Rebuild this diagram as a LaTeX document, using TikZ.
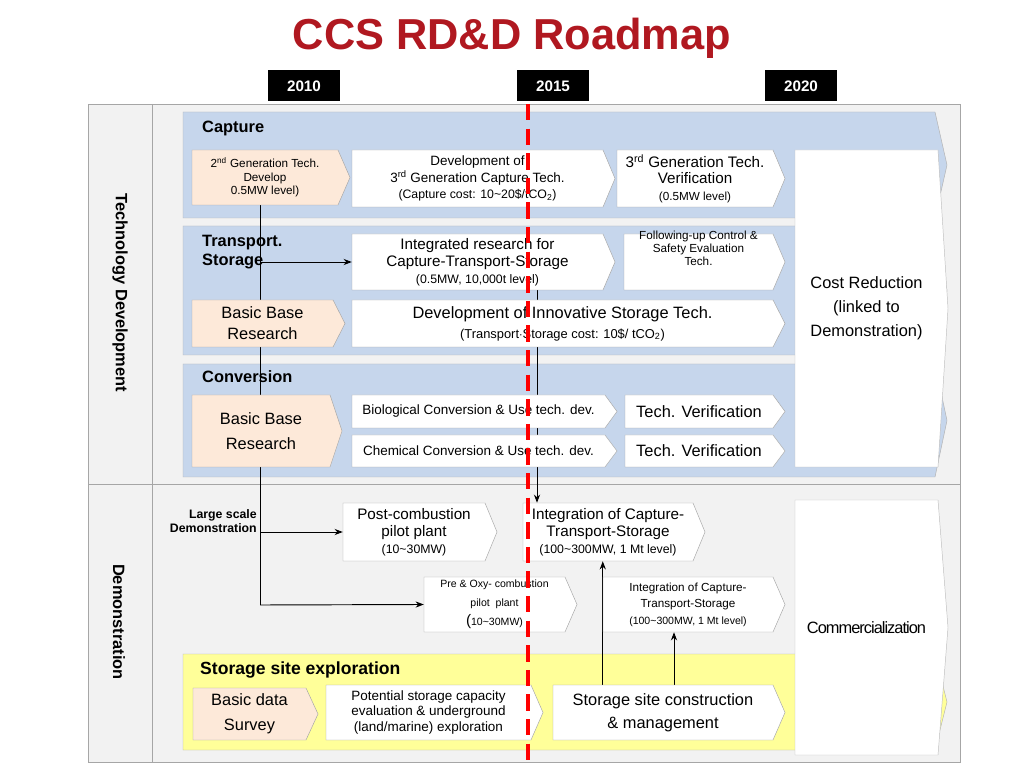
\documentclass[tikz,border=0pt]{standalone}
\usepackage{fontspec}
\setmainfont{Liberation Sans}
\usepackage{tikz}
\usetikzlibrary{arrows.meta}

\definecolor{titlered}{RGB}{176,24,32}
\definecolor{bandblue}{RGB}{198,214,236}
\definecolor{peach}{RGB}{253,233,217}
\definecolor{lightyellow}{RGB}{255,255,153}
\definecolor{framegray}{RGB}{242,242,242}

\pgfdeclarelayer{back}
\pgfdeclarelayer{bg}
\pgfsetlayers{back,bg,main}

\tikzset{
  boxw/.style={draw=gray!70, fill=white},
  boxp/.style={draw=gray!70, fill=peach},
  band/.style={draw=gray!60, fill=bandblue},
  bandy/.style={draw=gray!60, fill=lightyellow},
  boxtext/.style={inner sep=0pt, align=center},
  line/.style={black, thick},
  arr/.style={black, thick, -{Stealth[length=7pt]}},
  year/.style={fill=black, text=white, minimum width=72*0.03cm, minimum height=31*0.03cm,
    font=\fontsize{13}{14}\bfseries\selectfont},
  lbl/.style={anchor=north west, align=left, inner sep=0pt, font=\fontsize{14}{16}\bfseries\selectfont},
}

\def\tip{12}
% chevron box: [style]{name}{x1}{y1}{x2}{y2}{font size}{text}
\newcommand{\chev}[8][boxw]{%
  \draw[#1] (#3,#4) -- ({#5-\tip},#4) -- (#5,{(#4+#6)/2}) -- ({#5-\tip},#6) -- (#3,#6) -- cycle;
  \node[boxtext, font=#7, minimum width={(#5-#3-\tip)*0.03cm}, minimum height={(#6-#4)*0.03cm}]
    (#2) at ({(#3+#5-\tip)/2},{(#4+#6)/2}) {#8};}
\newcommand{\fs}[2]{\fontsize{#1}{#2}\selectfont}

\begin{document}
\begin{tikzpicture}[x=0.03cm, y=-0.03cm]
  \useasboundingbox (0,0) rectangle (1024,768);

  % title and years
  \node[text=titlered, font=\fontsize{37}{40}\bfseries\selectfont] (title) at (512,38) {CCS RD\&D Roadmap};
  \node[year] (y10) at (304,86) {2010};
  \node[year] (y15) at (553,86) {2015};
  \node[year] (y20) at (801,86) {2020};

  % frame and bands
  \begin{pgfonlayer}{back}
    \draw[gray!70, fill=framegray] (88,104) rectangle (960,762);
    \draw[gray!70] (152,104) -- (152,762);
    \draw[gray!70] (88,484) -- (960,484);
    \chev[band]{bcap}{183}{112}{947}{218}{}{}
    \chev[band]{btra}{183}{226}{947}{355}{}{}
    \chev[band]{bcon}{183}{364}{947}{477}{}{}
    \chev[bandy]{bsto}{183}{654}{947}{750}{}{}
  \end{pgfonlayer}

  \node[rotate=-90, font=\fontsize{14}{16}\bfseries\selectfont] (tech) at (120,293) {Technology Development};
  \node[rotate=-90, font=\fontsize{14}{16}\bfseries\selectfont] (demo) at (119,622) {Demonstration};

  \node[lbl] (lcap) at (202,121) {Capture};
  \node[lbl] (ltra) at (202,235) {Transport.\\Storage};
  \node[lbl] (lcon) at (202,370) {Conversion};
  \node[lbl, font=\fontsize{10.5}{12}\bfseries\selectfont, align=right, anchor=north east] (llar) at (257,509) {Large scale\\Demonstration};
  \node[lbl, font=\fontsize{15}{17}\bfseries\selectfont] (lsto) at (200,662) {Storage site exploration};

  % capture
  \chev[boxp]{c1}{192}{150}{350}{205}{\fs{10}{11.5}}{2\textsuperscript{nd} Generation Tech.\\Develop\\0.5MW level)}
  \chev{c2}{352}{150}{615}{207}{\fs{11.5}{14}}{Development of\\3\textsuperscript{rd} Generation Capture Tech.\\{\fs{10.5}{11}(Capture cost: 10\textasciitilde20\$/tCO\textsubscript{2})}}
  \chev{c3}{617}{150}{785}{207}{\fs{13}{14}}{3\textsuperscript{rd} Generation Tech.\\Verification\\{\fs{10}{11}(0.5MW level)}}

  % transport, storage
  \chev{t1}{352}{234}{615}{290}{\fs{13}{14.5}}{Integrated research for\\Capture-Transport-Storage\\{\fs{10.5}{11}(0.5MW, 10,000t level)}}
  \chev{t2}{624}{234}{785}{290}{\fs{10}{11.5}}{Following-up Control \&\\Safety Evaluation\\Tech.\\[12pt]}
  \chev[boxp]{t3}{192}{300}{345}{347}{\fs{14}{18}}{Basic Base\\Research}
  \chev{t4}{352}{300}{785}{347}{\fs{14}{17}}{Development of Innovative Storage Tech.\\{\fs{11}{12}(Transport$\cdot$Storage cost: 10\$/ tCO\textsubscript{2})}}

  % conversion
  \chev[boxp]{v1}{192}{395}{342}{467}{\fs{14}{21}}{Basic Base\\Research}
  \chev{v2}{352}{395}{617}{428}{\fs{11.5}{13}}{Biological Conversion \& Use tech. dev.}
  \chev{v3}{352}{435}{617}{467}{\fs{11.5}{13}}{Chemical Conversion \& Use tech. dev.}
  \chev{v4}{625}{395}{785}{428}{\fs{14}{16}}{Tech. Verification}
  \chev{v5}{625}{435}{785}{467}{\fs{14}{16}}{Tech. Verification}

  % right arrows
  \def\tip{10}
  \chev[draw=gray!50, fill=white]{cost}{795}{150}{948}{467}{\fs{14}{20.5}}{Cost Reduction\\(linked to\\Demonstration)}
  \chev[draw=gray!50, fill=white]{comm}{795}{500}{948}{755}{\fs{14}{16}\addfontfeature{LetterSpace=-6}}{Commercialization}
  \def\tip{12}

  % demonstration
  \chev{d1}{343}{503}{497}{561}{\fs{13}{14.5}}{Post-combustion\\pilot plant\\{\fs{10.5}{11}(10\textasciitilde30MW)}}
  \chev{d2}{523}{503}{705}{561}{\fs{13}{14.5}}{Integration of Capture-\\Transport-Storage\\{\fs{10.5}{11}(100\textasciitilde300MW, 1 Mt level)}}
  \chev{d3}{424}{577}{577}{632}{\fs{9}{16}}{Pre \& Oxy- combustion\\pilot\ \ plant\\{\fs{13}{13}(}10\textasciitilde30MW)}
  \chev{d4}{603}{577}{785}{632}{\fs{10}{14}}{Integration of Capture-\\Transport-Storage\\{\fs{9}{11}(100\textasciitilde300MW, 1 Mt level)}}

  % storage site
  \chev[boxp]{s1}{193}{688}{318}{740}{\fs{14}{21}}{Basic data\\Survey}
  \chev{s2}{326}{685}{543}{740}{\fs{11.5}{13}}{Potential storage capacity\\evaluation \& underground\\(land/marine) exploration}
  \chev{s3}{553}{685}{785}{740}{\fs{14}{20}}{Storage site construction\\\& management}

  % connectors
  \coordinate (trunk) at (260,605);
  \coordinate (down) at (537,0);
  \coordinate (up) at (674,0);
  \begin{pgfonlayer}{bg}
    \draw[line] (c1.south -| trunk) -- (trunk);
    \draw[arr] (trunk) -- (d3.west);
    \draw[arr] (t1.west -| trunk) -- (t1.west);
    \draw[arr] (d1.west -| trunk) -- (d1.west);
    \draw[arr] (t1.south -| down) -- (d2.north -| down);
    \draw[arr] (s3.north -| d4.west) -- (d2.south -| d4.west);
    \draw[arr] (s3.north -| up) -- (d4.south -| up);
  \end{pgfonlayer}

  % 2015 marker
  \coordinate (mtop) at (528,104);
  \coordinate (mbot) at (528,762);
  \draw[red, line width=3.5pt, dash pattern=on 14pt off 7pt] (mtop) -- (mbot);
\end{tikzpicture}
\end{document}
